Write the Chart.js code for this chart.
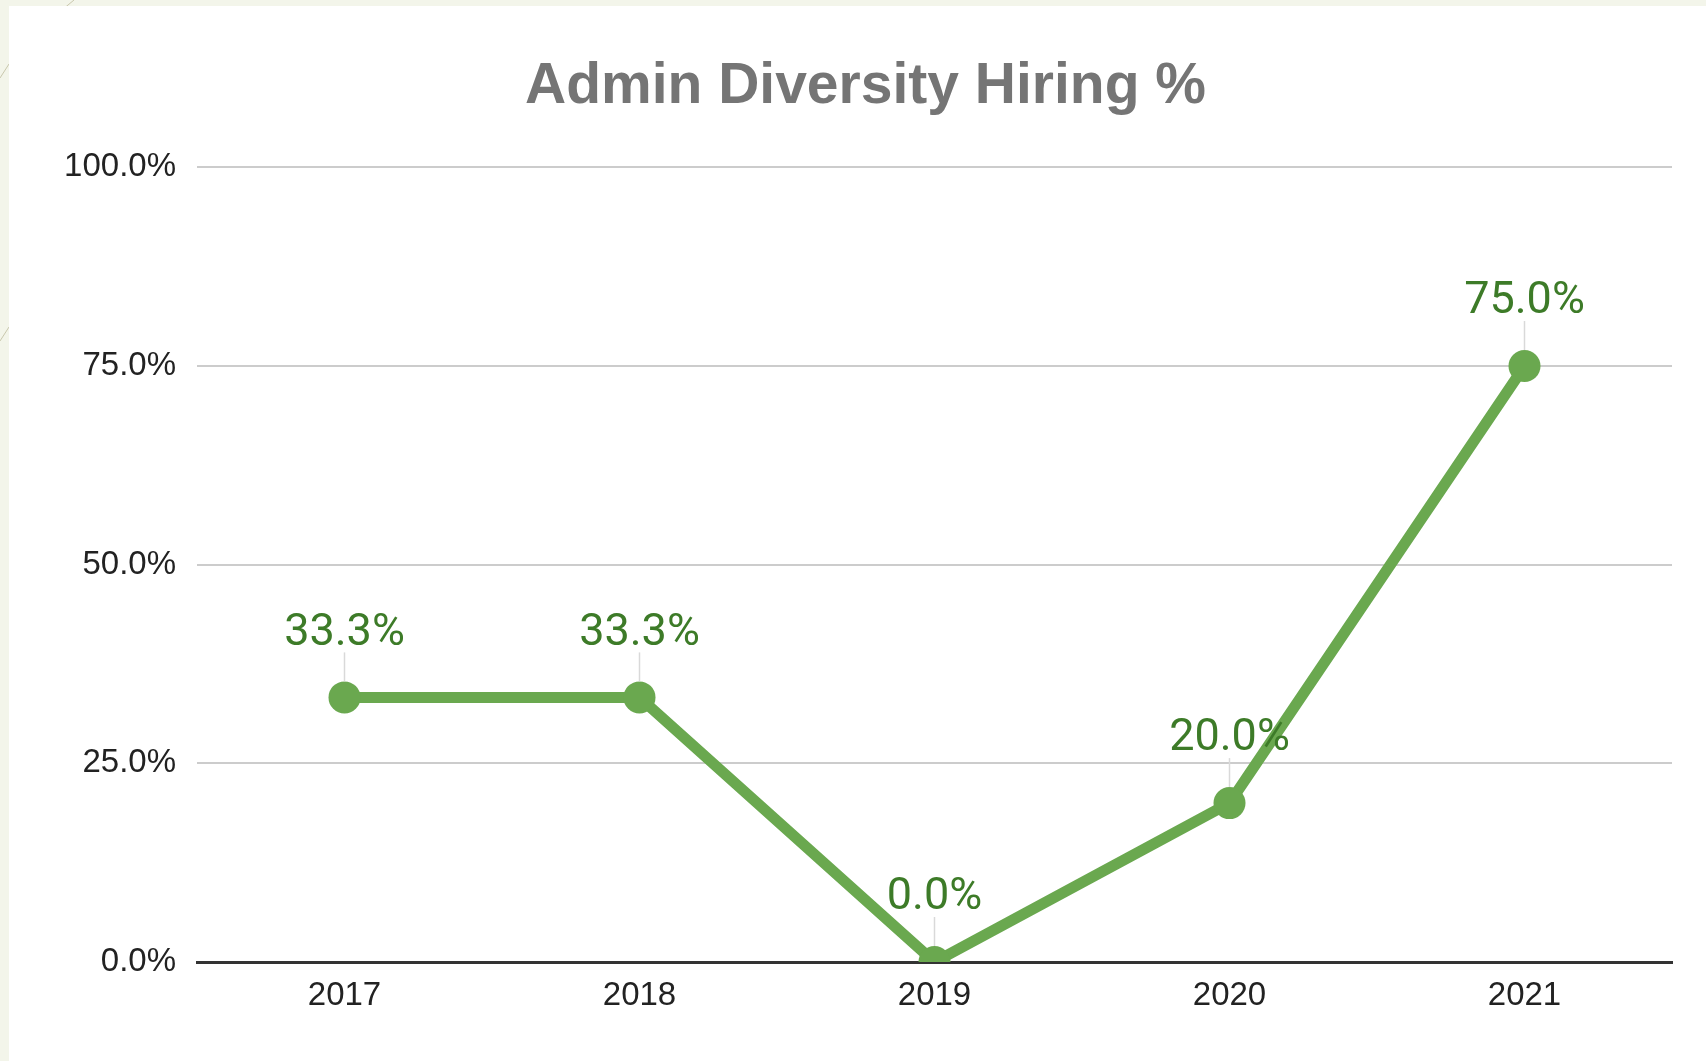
<!DOCTYPE html>
<html>
<head>
<meta charset="utf-8">
<script src="https://cdn.jsdelivr.net/npm/chart.js@4/dist/chart.umd.min.js"></script>
<style>
  html, body { margin: 0; padding: 0; width: 1706px; height: 1061px; overflow: hidden; background: #f3f5ea; }
  #deco { position: absolute; left: 0; top: 0; }
  #panel { position: absolute; left: 9px; top: 6px; width: 1697px; height: 1055px; background: #ffffff; }
  canvas { display: block; }
</style>
</head>
<body>
<svg id="deco" width="1706" height="1061">
  <line x1="74" y1="0" x2="62" y2="10" stroke="#c9c7ad" stroke-width="1"/>
  <line x1="9" y1="64" x2="0" y2="78" stroke="#c9c7ad" stroke-width="1"/>
  <line x1="9" y1="327" x2="0" y2="341" stroke="#c9c7ad" stroke-width="1"/>
</svg>
<div id="panel"><canvas id="c" width="1697" height="1055"></canvas></div>
<script>
const categories = ['2017', '2018', '2019', '2020', '2021'];
const values = [33.3, 33.3, 0.0, 20.0, 75.0];
const yTickValues = [0, 25, 50, 75, 100];
const titleText = 'Admin Diversity Hiring %';

const fmt = v => Number(v).toFixed(1) + '%';

const dataLabels = {
  id: 'dataLabels',
  afterDatasetsDraw(chart) {
    const ctx = chart.ctx;
    const meta = chart.getDatasetMeta(0);
    ctx.save();
    meta.data.forEach((pt, i) => {
      const x = pt.x, y = pt.y;
      ctx.strokeStyle = '#d9d9d9';
      ctx.lineWidth = 1.5;
      ctx.beginPath();
      ctx.moveTo(x, y - 45);
      ctx.lineTo(x, y - 16);
      ctx.stroke();
      ctx.fillStyle = '#3d7b28';
      ctx.font = '45px Roboto';
      ctx.textAlign = 'center';
      ctx.textBaseline = 'middle';
      ctx.fillText(fmt(values[i]), x, y - 64);
    });
    ctx.restore();
  }
};

new Chart(document.getElementById('c'), {
  type: 'line',
  data: {
    labels: categories,
    datasets: [{
      data: values,
      borderColor: '#6aa84f',
      backgroundColor: '#6aa84f',
      borderWidth: 11,
      pointRadius: 16,
      pointBorderWidth: 0,
      pointBackgroundColor: '#6aa84f',
      tension: 0,
      clip: 0
    }]
  },
  plugins: [dataLabels],
  options: {
    responsive: false,
    animation: false,
    layout: { padding: { left: 16, right: 0, top: 0, bottom: 0 } },
    plugins: {
      legend: { display: false },
      tooltip: { enabled: false },
      title: {
        display: true,
        text: titleText,
        color: '#757575',
        font: { family: "'Liberation Sans', Arial, sans-serif", size: 57, weight: 'bold' },
        padding: { top: 47, bottom: 46 }
      }
    },
    scales: {
      x: {
        offset: true,
        grid: { display: false, drawTicks: false },
        border: { display: true, color: '#333333', width: 3 },
        ticks: {
          color: '#222222',
          font: { family: "'Liberation Sans', Arial, sans-serif", size: 33 },
          padding: 14,
          maxRotation: 0
        },
        afterFit(scale) { scale.height = 99; }
      },
      y: {
        min: 0,
        max: 100,
        afterBuildTicks(scale) { scale.ticks = yTickValues.map(v => ({ value: v })); },
        grid: {
          drawTicks: false,
          color: c => (c.tick && c.tick.value === 0) ? 'rgba(0,0,0,0)' : '#cccccc',
          lineWidth: 2
        },
        border: { display: false },
        ticks: {
          color: '#222222',
          font: { family: "'Liberation Sans', Arial, sans-serif", size: 33 },
          padding: 21,
          callback: v => fmt(v)
        },
        afterFit(scale) { scale.width = 172; }
      },
      yRightGap: {
        position: 'right',
        display: true,
        min: 0,
        max: 100,
        grid: { display: false, drawTicks: false },
        border: { display: false },
        ticks: { display: false },
        afterFit(scale) { scale.width = 34; }
      }
    }
  }
});
</script>
</body>
</html>
